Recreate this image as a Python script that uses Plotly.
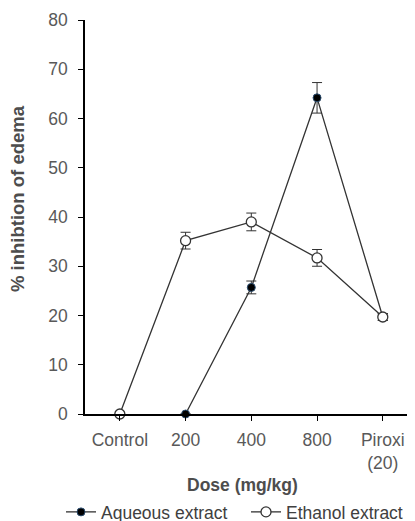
import plotly.graph_objects as go

categories = ["Control", "200", "400", "800", "Piroxi<br>(20)"]
aqueous = [None, 0.0, 25.7, 64.2, 19.7]
aqueous_err = [0, 0, 1.3, 3.1, 0.7]
ethanol = [0.0, 35.2, 39.0, 31.7, 19.7]
ethanol_err = [0, 1.7, 1.8, 1.7, 0.7]

FONT = "Liberation Sans, Arial, sans-serif"
x_idx = list(range(len(categories)))

fig = go.Figure()
fig.add_trace(go.Scatter(
    x=x_idx, y=aqueous, name="Aqueous extract", mode="lines+markers",
    line=dict(color="#333333", width=1.3),
    marker=dict(symbol="circle", size=8, color="#000000", line=dict(color="#2b4d70", width=1)),
    error_y=dict(type="data", array=aqueous_err, visible=True, color="#333333", thickness=1, width=5),
    cliponaxis=False, connectgaps=False,
))
fig.add_trace(go.Scatter(
    x=x_idx, y=ethanol, name="Ethanol extract", mode="lines+markers",
    line=dict(color="#333333", width=1.3),
    marker=dict(symbol="circle", size=10, color="#ffffff", line=dict(color="#333333", width=1.3)),
    error_y=dict(type="data", array=ethanol_err, visible=True, color="#333333", thickness=1, width=5),
    cliponaxis=False,
))

fig.update_layout(
    width=407, height=513,
    margin=dict(l=77, r=0, t=12, b=107, autoexpand=False),
    paper_bgcolor="white", plot_bgcolor="white",
    font=dict(family=FONT, size=17.5, color="#595959"),
    showlegend=True,
    legend=dict(orientation="h", x=(61 - 85) / 330, xanchor="left",
                y=-(494 - 414) / 394, yanchor="top",
                font=dict(family=FONT, size=17.5, color="#404040"),
                bgcolor="rgba(0,0,0,0)", itemwidth=30, tracegroupgap=0,
                entrywidth=140),
    xaxis=dict(
        tickmode="array", tickvals=x_idx, ticktext=categories,
        range=[-0.53, 4.49], showgrid=False, zeroline=False, automargin=False,
        showline=True, linecolor="#000000", linewidth=1.5,
        ticks="outside", ticklen=5, tickcolor="#000000", tickwidth=1.2,
        ticklabelstandoff=4,
        tickfont=dict(family=FONT, size=17.5, color="#595959"),
    ),
    yaxis=dict(
        range=[0, 80], tickvals=[0, 10, 20, 30, 40, 50, 60, 70, 80],
        showgrid=False, zeroline=False, automargin=False,
        showline=True, linecolor="#000000", linewidth=1.5,
        ticks="outside", ticklen=5, tickcolor="#000000", tickwidth=1.2,
        ticklabelstandoff=7,
        tickfont=dict(family=FONT, size=17.5, color="#595959"),
    ),
    annotations=[
        dict(text="<b>% inhibtion of edema</b>", textangle=-90, xref="paper", yref="paper",
             x=(17 - 85) / 330, y=(414 - 199) / 394, xanchor="center", yanchor="middle",
             showarrow=False, font=dict(family=FONT, size=18.5, color="#4d4d4d")),
        dict(text="<b>Dose (mg/kg)</b>", xref="paper", yref="paper",
             x=(242 - 85) / 330, y=(414 - 485) / 394, xanchor="center", yanchor="middle",
             showarrow=False, font=dict(family=FONT, size=17.5, color="#4d4d4d")),
    ],
)

fig.write_html("out.html")
